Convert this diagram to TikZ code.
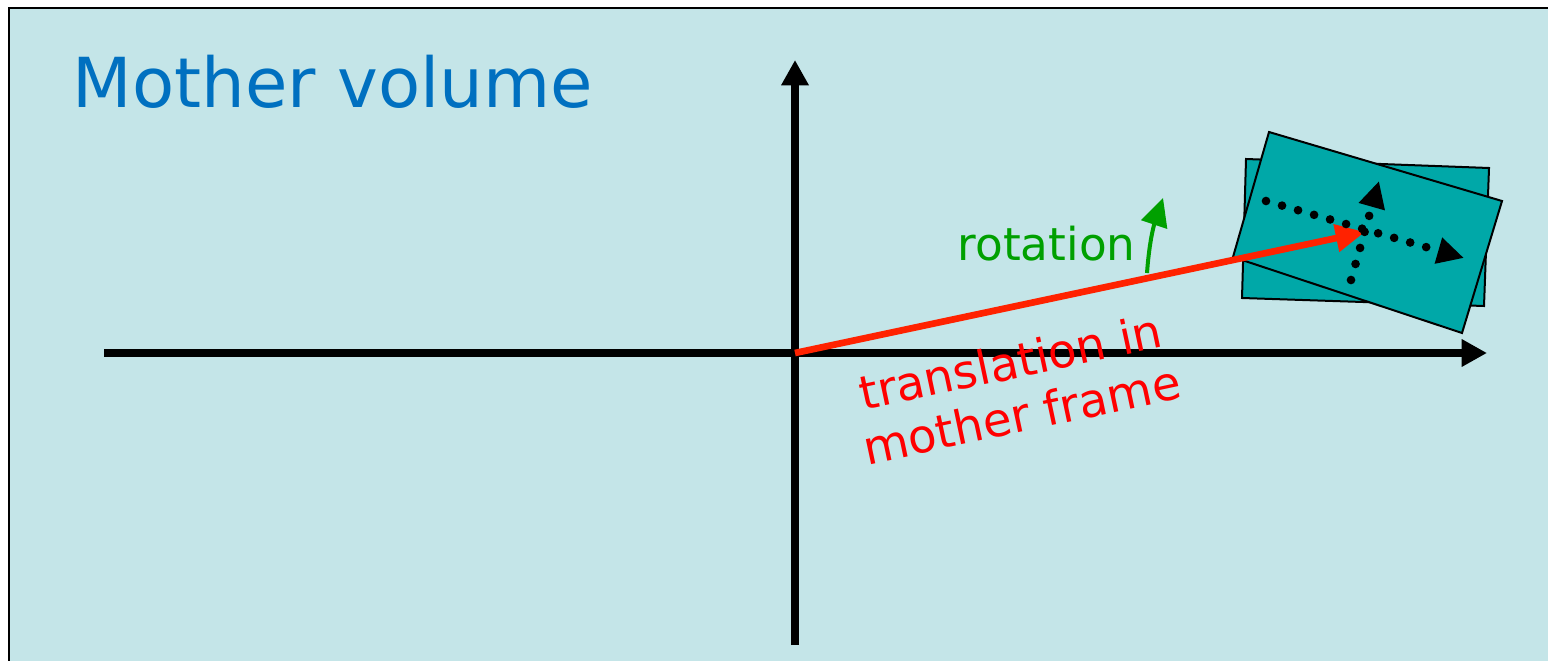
\documentclass[tikz,border=0pt]{standalone}
\usepackage{fontspec}
\setmainfont{DejaVu Sans}
\usetikzlibrary{arrows.meta}
\definecolor{MotherBg}{HTML}{C4E5E8}
\definecolor{MotherBlue}{HTML}{0070C0}
\definecolor{DaughterTeal}{HTML}{00A8A8}
\definecolor{RotGreen}{HTML}{00A000}
\definecolor{TransRed}{HTML}{FF0000}
\definecolor{ArrowRed}{HTML}{FF2200}

\begin{document}
\begin{tikzpicture}[x=0.75pt,y=-0.75pt,
  axisline/.style={line width=6pt,-{Triangle[length=19pt,width=19.5pt]}},
  dotarrow/.style={line width=6.5pt,line cap=round,dash pattern=on 0pt off 12.5pt,
    -{Triangle[length=20pt,width=19pt]}},
  volbox/.style={fill=DaughterTeal,line width=1.5pt,line join=miter}]
  \useasboundingbox (0,0) rectangle (1548,660);
  \fill[white] (0,0) rectangle (1548,660);
  \draw[fill=MotherBg,line width=1.5pt] (9,8) rectangle (1600,700);
  \node[anchor=base west,MotherBlue,font=\fontsize{51.7}{60}\selectfont] (title) at (68,108) {Mother volume};

  \coordinate (O) at (795,353);
  \coordinate (xl) at (104,353);
  \coordinate (xr) at (1487,353);
  \coordinate (yb) at (795,645);
  \coordinate (yt) at (795,60);
  \draw[axisline] (xl) -- (xr);
  \draw[axisline] (yb) -- (yt);

  % daughter, unrotated and rotated
  \draw[volbox] (1246,159) -- (1489,168) -- (1484,306) -- (1242,298) -- cycle;
  \draw[volbox] (1269,132) -- (1502,201) -- (1462,333) -- (1233,257) -- cycle;

  \coordinate (T) at (1365,232);
  \draw[ArrowRed,line width=5pt,-{Triangle[length=22pt,width=20pt]}] (O) -- (T);

  \coordinate (g0) at (1147,273);
  \coordinate (g1) at (1163,198);
  \draw[RotGreen,line width=3pt,-{Triangle[length=21pt,width=20pt]}]
    (g0) .. controls (1149,245) and (1153,228) .. (g1);
  \node[anchor=base west,RotGreen,font=\fontsize{34}{40}\selectfont] (rot) at (953,260) {rotation};

  \node[rotate=12,align=center,TransRed,font=\fontsize{35}{40.5}\selectfont] (trans) at (1016,388)
    {translation in\\mother frame};

  % local axes of the daughter
  \coordinate (u0) at (1266,201);
  \coordinate (u1) at (1464,258);
  \coordinate (v0) at (1351,280);
  \coordinate (v1) at (1379,181);
  \draw[dotarrow] (u0) -- (u1);
  \draw[dotarrow] (v0) -- (v1);
\end{tikzpicture}
\end{document}
